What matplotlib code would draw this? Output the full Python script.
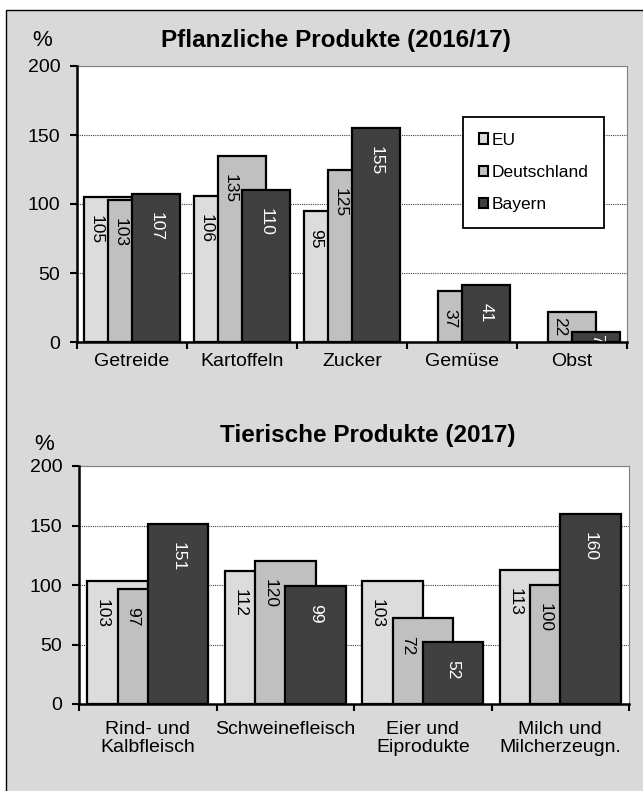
import matplotlib
matplotlib.use('Agg')
import matplotlib.pyplot as plt
from matplotlib.patches import Rectangle, Patch
import numpy as np

plt.rcParams['font.family'] = 'Liberation Sans'

series = ['EU', 'Deutschland', 'Bayern']
colors = ['#dcdcdc', '#c0c0c0', '#404040']
label_colors = ['black', 'black', 'white']

# Pflanzliche Produkte (2016/17)
plant_cats = ['Getreide', 'Kartoffeln', 'Zucker', 'Gemüse', 'Obst']
plant_eu = [105, 106, 95, np.nan, np.nan]
plant_de = [103, 135, 125, 37, 22]
plant_by = [107, 110, 155, 41, 7]

# Tierische Produkte (2017)
animal_cats = ['Rind- und\nKalbfleisch', 'Schweinefleisch', 'Eier und\nEiprodukte',
               'Milch und\nMilcherzeugn.']
animal_eu = [103, 112, 103, 113]
animal_de = [97, 120, 72, 100]
animal_by = [151, 99, 52, 160]

W, H = 643, 791
fig = plt.figure(figsize=(W / 100, H / 100), dpi=100)
fig.patch.set_facecolor('white')
fig.patches.append(Rectangle((6 / W, -0.1), 2, 1.1 - 10 / H, transform=fig.transFigure,
                             facecolor='#d9d9d9', edgecolor='black', lw=1.0, zorder=-10))


def panel(rect, cats, data, title, title_xy, pct_xy, xpad, legend=False):
    ax = fig.add_axes(rect)
    ax.set_facecolor('white')
    n = len(cats)
    width, off = 0.44, 0.22
    for i, vals in enumerate(data):
        x = np.arange(n) + (i - 1) * off
        ax.bar(x, vals, width=width, color=colors[i], edgecolor='black', lw=1.6,
               zorder=2 + i, label=series[i])
        for xi, v in zip(x, vals):
            if np.isnan(v):
                continue
            # label sits in the visible part of the bar
            lx = xi - width / 2 + off / 2 if i < 2 else xi
            if v >= 30:
                pad = -13
            elif v >= 15:
                pad = -4
            else:
                pad = -1
            ax.annotate(str(int(v)), (lx, v), xytext=(0, pad), textcoords='offset points',
                        rotation=-90, ha='center', va='top', fontsize=12.5,
                        color=label_colors[i], zorder=10, clip_on=True)
    ax.set_xlim(-0.5, n - 0.5)
    ax.set_ylim(0, 200)
    ax.set_yticks([0, 50, 100, 150, 200])
    ax.set_xticks(np.arange(-0.5, n, 1))
    ax.set_xticklabels([])
    ax.set_xticks(np.arange(n), minor=True)
    ax.set_xticklabels(cats, minor=True, fontsize=14, linespacing=1.1)
    ax.tick_params(axis='x', which='major', length=5, width=1.5, direction='out')
    ax.tick_params(axis='x', which='minor', length=0, pad=xpad)
    ax.tick_params(axis='y', length=5, width=1.5, pad=7, labelsize=14)
    ax.yaxis.grid(True, linestyle=(0, (1, 1)), color='#404040', lw=0.8)
    ax.set_axisbelow(True)
    for s in ['left', 'bottom']:
        ax.spines[s].set_linewidth(1.8)
        ax.spines[s].set_zorder(20)
    for s in ['top', 'right']:
        ax.spines[s].set_linewidth(0.8)
        ax.spines[s].set_color('#808080')
    fig.text(title_xy[0] / W, 1 - title_xy[1] / H, title, ha='center', va='center',
             fontsize=17.5, fontweight='bold')
    fig.text(pct_xy[0] / W, 1 - pct_xy[1] / H, '%', ha='center', va='center', fontsize=16)
    if legend:
        handles = [Patch(facecolor=c, edgecolor='black', lw=1.5) for c in colors]
        leg = ax.legend(handles, series, loc='upper left', bbox_to_anchor=(0.702, 0.815),
                        fontsize=12.5, fancybox=False, framealpha=1, edgecolor='black',
                        handlelength=0.55, handleheight=0.55, handletextpad=0.2,
                        labelspacing=1.0, borderpad=0.9, borderaxespad=0)
        leg.get_frame().set_linewidth(1.3)
        leg.set_zorder(30)
    return ax


panel([77 / W, 1 - 342 / H, 550 / W, 276 / H], plant_cats,
      [plant_eu, plant_de, plant_by], 'Pflanzliche Produkte (2016/17)',
      (336, 40), (42, 41), 8, legend=True)
panel([79 / W, 1 - 704 / H, 550 / W, 238 / H], animal_cats,
      [animal_eu, animal_de, animal_by], 'Tierische Produkte (2017)',
      (368, 436), (44, 445), 12)

fig.savefig('out.png', dpi=100)
